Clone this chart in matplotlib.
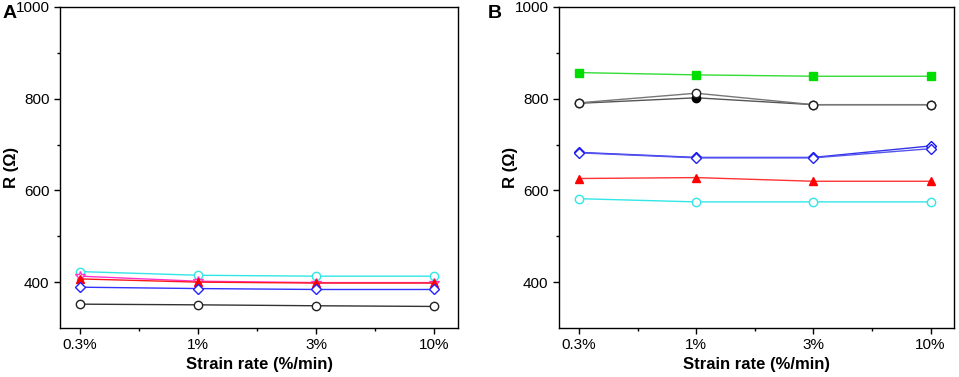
import matplotlib
matplotlib.use("Agg")
import matplotlib.pyplot as plt
from matplotlib.ticker import FixedLocator

plt.rcParams['font.family'] = ['Liberation Sans', 'DejaVu Sans']

categories = ["0.3%", "1%", "3%", "10%"]

# Panel A series
a_cyan = [423, 415, 413, 413]
a_magenta = [413, 402, 399, 399]
a_red = [407, 400, 398, 398]
a_blue = [389, 386, 384, 384]
a_black = [352, 350.5, 348.5, 347]

# Panel B series
b_green = [857, 852, 849, 849]
b_black_open = [791, 812, 787, 787]
b_black_filled = [790, 802, 787, 787]
b_blue1 = [682, 671, 671, 691]
b_blue2 = [683, 672, 672, 697]
b_red = [626, 628, 620, 620]
b_cyan = [582, 575, 575, 575]

fig = plt.figure(figsize=(9.59, 3.77), dpi=100)
W, H = 959, 377
axA = fig.add_axes([60 / W, 1 - 328 / H, (458 - 60) / W, (328 - 7) / H])
axB = fig.add_axes([559 / W, 1 - 328 / H, (954 - 559) / W, (328 - 7) / H])

x = list(range(len(categories)))
ms = 6
lw = 1.0

def style(ax, letter, lx):
    ax.set_xlim(-0.17, 3.2)
    ax.set_ylim(300, 1000)
    ax.set_xticks(x)
    ax.set_xticklabels(categories, fontsize=11)
    ax.xaxis.set_minor_locator(FixedLocator([0.5, 1.5, 2.5]))
    ax.yaxis.set_major_locator(FixedLocator([400, 600, 800, 1000]))
    ax.yaxis.set_minor_locator(FixedLocator([500, 700, 900]))
    ax.tick_params(axis='both', which='major', direction='out', length=4, width=1, labelsize=11)
    ax.tick_params(axis='both', which='minor', direction='out', length=2.5, width=1)
    ax.tick_params(top=False, right=False, which='both')
    for s in ax.spines.values():
        s.set_linewidth(1.0)
    ax.set_xlabel("Strain rate (%/min)", fontsize=12, fontweight='bold', labelpad=3)
    ax.set_ylabel("R (Ω)", fontsize=12, fontweight='bold')
    ax.yaxis.set_label_coords(-0.104, 0.5)
    fig.text(lx / W, 1 - 14 / H, letter, fontsize=14, fontweight='bold', ha='left', va='center')

# Panel A
axA.plot(x, a_cyan, color='#33e6e6', lw=lw, marker='o', ms=ms, mfc='white', mec='#33e6e6', mew=1)
axA.plot(x, a_magenta, color='#ff33cc', lw=lw, marker='*', ms=ms + 1, mfc='white', mec='#ff33cc', mew=1)
axA.plot(x, a_red, color='#ff1a1a', lw=lw, marker='^', ms=ms, mfc='#ff0000', mec='#ff0000', mew=1)
axA.plot(x, a_blue, color='#3333ff', lw=lw, marker='D', ms=ms - 1, mfc='white', mec='#2222ff', mew=1)
axA.plot(x, a_black, color='#333333', lw=lw, marker='o', ms=ms, mfc='white', mec='#222222', mew=1)
style(axA, "A", 3)

# Panel B
axB.plot(x, b_green, color='#33dd33', lw=lw, marker='s', ms=ms, mfc='#00dd00', mec='#00dd00', mew=1)
axB.plot(x, b_black_filled, color='#555555', lw=lw, marker='o', ms=ms, mfc='black', mec='black', mew=1)
axB.plot(x, b_black_open, color='#777777', lw=lw, marker='o', ms=ms, mfc='white', mec='#222222', mew=1)
axB.plot(x, b_blue2, color='#3333ee', lw=lw, marker='D', ms=ms - 1, mfc='white', mec='#1111ee', mew=1)
axB.plot(x, b_blue1, color='#5555ee', lw=lw, marker='D', ms=ms - 1, mfc='white', mec='#2222ee', mew=1)
axB.plot(x, b_red, color='#ff3333', lw=lw, marker='^', ms=ms, mfc='#ff0000', mec='#ff0000', mew=1)
axB.plot(x, b_cyan, color='#33e6e6', lw=lw, marker='o', ms=ms, mfc='white', mec='#33e6e6', mew=1)
style(axB, "B", 488)

fig.savefig("out.png", dpi=100)
